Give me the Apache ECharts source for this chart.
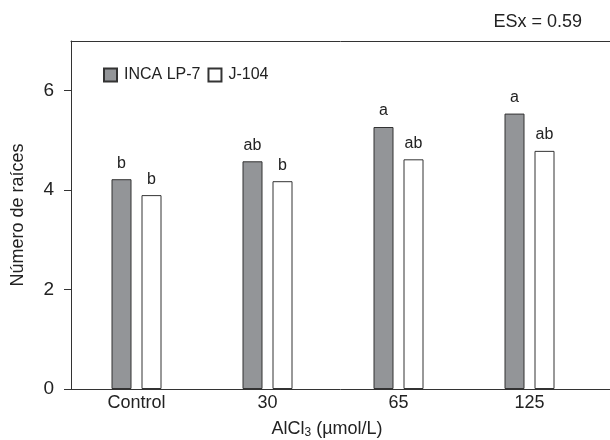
<!DOCTYPE html>
<html>
<head>
<meta charset="utf-8">
<script src="https://cdn.jsdelivr.net/npm/echarts@6/dist/echarts.min.js"></script>
<style>html,body{margin:0;padding:0;background:#fff}#c{width:610px;height:440px}</style>
</head>
<body>
<div id="c"></div>
<script>
var categories = ['Control', '30', '65', '125'];
var incaValues = [4.22, 4.58, 5.27, 5.54];
var j104Values = [3.90, 4.18, 4.62, 4.79];
var incaLetters = ['b', 'ab', 'a', 'a'];
var j104Letters = ['b', 'b', 'ab', 'ab'];
var yTicks = [0, 2, 4, 6];
var seriesNames = ['INCA LP-7', 'J-104'];
var esText = 'ESx = 0.59';

var FONT = '"Liberation Sans", Arial, sans-serif';
var TXT = '#222';
var LINE = '#333';

var chart = echarts.init(document.getElementById('c'));
chart.setOption({
  animation: false,
  backgroundColor: '#fff',
  textStyle: { fontFamily: FONT, color: TXT },
  title: {
    text: esText, right: 23, top: 8,
    textStyle: { fontFamily: FONT, fontSize: 18, fontWeight: 'normal', color: TXT }
  },
  legend: {
    left: 98, top: 62,
    icon: 'rect', itemWidth: 13, itemHeight: 13, itemGap: 7,
    textStyle: { fontFamily: FONT, fontSize: 16, color: TXT, padding: [0, 0, 0, 2] },
    data: seriesNames
  },
  grid: [
    { left: 71, right: 15, top: 41, bottom: 51, outerBoundsMode: 'none', containLabel: false },
    { left: 71, right: 0, top: 41, bottom: 51, outerBoundsMode: 'none', containLabel: false }
  ],
  xAxis: [
    {
      type: 'category', gridIndex: 0, data: categories,
      axisLine: { show: false }, axisTick: { show: false },
      axisLabel: { fontFamily: FONT, fontSize: 18, color: TXT, margin: 5 },
      name: 'AlCl{sub|3} (µmol/L)', nameLocation: 'middle', nameGap: 30,
      nameTextStyle: {
        fontFamily: FONT, fontSize: 18, color: TXT, padding: [0, 12, 0, 0],
        rich: { sub: { fontFamily: FONT, fontSize: 12, color: TXT, verticalAlign: 'bottom', padding: [8, 0, 0, 0] } }
      }
    },
    {
      type: 'value', gridIndex: 1, position: 'bottom', min: 0, max: 1,
      axisLine: { show: true, onZero: false, lineStyle: { color: LINE, width: 1 } },
      axisTick: { show: false }, axisLabel: { show: false }, splitLine: { show: false }
    },
    {
      type: 'value', gridIndex: 1, position: 'top', min: 0, max: 1,
      axisLine: { show: true, onZero: false, lineStyle: { color: LINE, width: 1 } },
      axisTick: { show: false }, axisLabel: { show: false }, splitLine: { show: false }
    }
  ],
  yAxis: [
    {
      type: 'value', gridIndex: 0, min: 0, max: 7,
      axisLine: { show: true, lineStyle: { color: LINE, width: 1 } },
      axisTick: { show: true, length: 7, lineStyle: { color: LINE }, customValues: yTicks },
      axisLabel: { fontFamily: FONT, fontSize: 19, color: TXT, margin: 17, customValues: yTicks },
      splitLine: { show: false },
      name: 'Número de raíces', nameLocation: 'middle', nameGap: 44,
      nameTextStyle: { fontFamily: FONT, fontSize: 18, color: TXT }
    },
    {
      type: 'value', gridIndex: 1, min: 0, max: 1, show: false
    }
  ],
  series: [
    {
      name: seriesNames[0], type: 'bar', xAxisIndex: 0, yAxisIndex: 0,
      data: incaValues, barWidth: 20, barGap: '50%',
      itemStyle: { color: '#939598', borderColor: LINE, borderWidth: 1 },
      label: {
        show: true, position: 'top', distance: 8,
        fontFamily: FONT, fontSize: 16, color: TXT,
        formatter: function (p) { return incaLetters[p.dataIndex]; }
      }
    },
    {
      name: seriesNames[1], type: 'bar', xAxisIndex: 0, yAxisIndex: 0,
      data: j104Values, barWidth: 20, barGap: '50%',
      itemStyle: { color: '#ffffff', borderColor: LINE, borderWidth: 1 },
      label: {
        show: true, position: 'top', distance: 8,
        fontFamily: FONT, fontSize: 16, color: TXT,
        formatter: function (p) { return j104Letters[p.dataIndex]; }
      }
    }
  ]
});
</script>
</body>
</html>
